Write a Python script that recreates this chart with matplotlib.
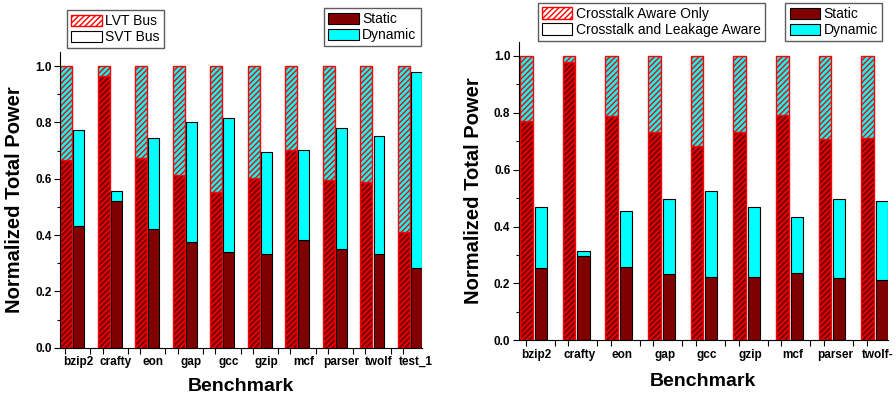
import matplotlib
matplotlib.use("Agg")
import matplotlib.pyplot as plt
import numpy as np
from matplotlib.patches import Patch
from matplotlib.ticker import MultipleLocator, FixedLocator

plt.rcParams['font.family'] = ['Liberation Sans', 'DejaVu Sans']
plt.rcParams['hatch.linewidth'] = 1.0

# ---- Left chart data ----
left_bench = ["bzip2", "crafty", "eon", "gap", "gcc", "gzip", "mcf", "parser", "twolf", "test_1"]
left_lvt_static = [0.668, 0.964, 0.674, 0.614, 0.554, 0.602, 0.703, 0.597, 0.588, 0.412]
left_lvt_total = [1.0] * 10
left_svt_static = [0.432, 0.521, 0.420, 0.377, 0.339, 0.331, 0.381, 0.349, 0.333, 0.283]
left_svt_total = [0.772, 0.555, 0.744, 0.800, 0.814, 0.694, 0.701, 0.781, 0.753, 0.980]

# ---- Right chart data ----
right_bench = ["bzip2", "crafty", "eon", "gap", "gcc", "gzip", "mcf", "parser", "twolf-"]
right_ca_static = [0.772, 0.978, 0.787, 0.733, 0.684, 0.734, 0.794, 0.709, 0.713]
right_ca_total = [1.0] * 9
right_cla_static = [0.255, 0.296, 0.259, 0.234, 0.222, 0.222, 0.238, 0.220, 0.213]
right_cla_total = [0.468, 0.315, 0.455, 0.497, 0.524, 0.467, 0.433, 0.496, 0.489]

STATIC = "#800000"
DYN = "#00FFFF"

fig = plt.figure(figsize=(8.96, 3.95), dpi=100)
ax1 = fig.add_axes([0.067, 0.1197, 0.4037, 0.7487])
ax2 = fig.add_axes([0.5789, 0.1385, 0.4118, 0.7559])


def draw(ax, bench, h_static, h_total, s_static, s_total,
         h_off, h_w, s_off, s_w, lab_off, t1, t2, xmax, xlpad):
    x = np.arange(len(bench))
    hs = np.array(h_static); ht = np.array(h_total)
    ss = np.array(s_static); st = np.array(s_total)
    ax.bar(x + h_off, hs, h_w, align='edge', color=STATIC, edgecolor='red',
           hatch='//////', linewidth=1.0)
    ax.bar(x + h_off, ht - hs, h_w, bottom=hs, align='edge', color=DYN,
           edgecolor='red', hatch='//////', linewidth=1.0)
    ax.bar(x + s_off, ss, s_w, align='edge', color=STATIC, edgecolor='black',
           linewidth=0.8)
    ax.bar(x + s_off, st - ss, s_w, bottom=ss, align='edge', color=DYN,
           edgecolor='black', linewidth=0.8)
    ax.set_xlim(0, xmax)
    ax.set_ylim(0, 1.05)
    ax.spines['top'].set_visible(False)
    ax.spines['right'].set_visible(False)
    ax.yaxis.set_minor_locator(MultipleLocator(0.1))
    ax.set_yticks(np.arange(0, 1.01, 0.2))
    ax.set_yticklabels([f"{v:.1f}" for v in np.arange(0, 1.01, 0.2)],
                       fontsize=8.5, fontweight='bold')
    ax.set_xticks(x + lab_off)
    ax.set_xticklabels(bench, fontsize=8.5, fontweight='bold')
    ax.xaxis.set_minor_locator(FixedLocator(np.concatenate([x + t1, x + t2])))
    ax.tick_params(axis='x', which='major', length=0, pad=6)
    ax.tick_params(axis='x', which='minor', length=4, width=0.8, direction='out')
    ax.tick_params(axis='y', which='major', length=4, width=0.8, direction='out', pad=2)
    ax.tick_params(axis='y', which='minor', length=2.5, width=0.8, direction='out')
    ax.set_xlabel("Benchmark", fontsize=14, fontweight='bold', labelpad=xlpad)
    ax.set_ylabel("Normalized Total Power", fontsize=14.5, fontweight='bold', labelpad=8)


draw(ax1, left_bench, left_lvt_static, left_lvt_total, left_svt_static, left_svt_total,
     0.0, 0.32, 0.355, 0.29, 0.49, 0.14, 0.81, 9.64, 7)
draw(ax2, right_bench, right_ca_static, right_ca_total, right_cla_static, right_cla_total,
     0.03, 0.30, 0.375, 0.285, 0.42, 0.16, 0.84, 8.65, 9)


def legends(a_lab, b_lab, pos1, pos2):
    h1 = [Patch(facecolor='white', edgecolor='red', hatch='//////', linewidth=1.0),
          Patch(facecolor='white', edgecolor='black', linewidth=0.8)]
    l1 = fig.legend(h1, [a_lab, b_lab], loc='upper left', bbox_to_anchor=pos1,
                    bbox_transform=fig.transFigure, fontsize=10, frameon=True,
                    fancybox=False, edgecolor='#333333', handlelength=2.2,
                    handleheight=0.9, handletextpad=0.25, labelspacing=0.15,
                    borderpad=0.3, borderaxespad=0)
    l1.get_frame().set_linewidth(1.0)
    h2 = [Patch(facecolor=STATIC, edgecolor='black', linewidth=0.8),
          Patch(facecolor=DYN, edgecolor='black', linewidth=0.8)]
    l2 = fig.legend(h2, ["Static", "Dynamic"], loc='upper left', bbox_to_anchor=pos2,
                    bbox_transform=fig.transFigure, fontsize=10, frameon=True,
                    fancybox=False, edgecolor='#333333', handlelength=2.2,
                    handleheight=0.9, handletextpad=0.25, labelspacing=0.15,
                    borderpad=0.3, borderaxespad=0)
    l2.get_frame().set_linewidth(1.0)


legends("LVT Bus", "SVT Bus", (0.0748, 0.9747), (0.3616, 0.9797))
legends("Crosstalk Aware Only", "Crosstalk and Leakage Aware", (0.6001, 0.993), (0.8765, 0.9924))

fig.savefig("out.png", dpi=100)
